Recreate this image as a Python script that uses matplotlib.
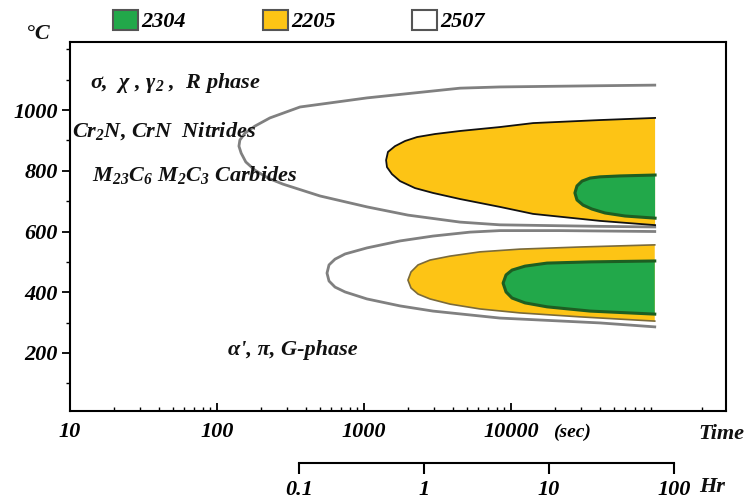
import matplotlib
matplotlib.use("Agg")
import matplotlib.pyplot as plt
from matplotlib.patches import Patch
from matplotlib.ticker import FixedLocator, FixedFormatter, LogLocator, NullFormatter, MultipleLocator

plt.rcParams['mathtext.fontset'] = 'custom'
plt.rcParams['mathtext.rm'] = 'Liberation Serif:bold:italic'
plt.rcParams['mathtext.it'] = 'Liberation Serif:bold:italic'
plt.rcParams['mathtext.bf'] = 'Liberation Serif:bold:italic'
plt.rcParams['font.family'] = ['Liberation Serif', 'DejaVu Serif']

# ---------------- data (time in s, temperature in degC) ----------------
# upper nose (sigma, chi, nitrides, carbides)
g2507_up_t = [95000, 40000, 8400, 4500, 1050, 367, 229, 181, 155, 143, 141, 146, 157, 181, 222,
              281, 502, 1050, 1990, 4500, 8400, 40000, 95000]
g2507_up_T = [1082, 1080, 1076, 1072, 1040, 1010, 974, 947, 924, 901, 881, 858, 829, 802, 776,
              756, 717, 681, 654, 631, 622, 617, 615]

g2205_up_t = [95500, 40300, 14130, 8410, 4497, 3040, 2295, 1901, 1624, 1455, 1413,
              1433, 1549, 1758, 2223, 2946, 4497, 8410, 14130, 40300, 95500]
g2205_up_T = [974, 967, 957, 944, 931, 921, 911, 898, 881, 862, 835,
              812, 789, 766, 743, 727, 707, 681, 658, 635, 621]

g2304_up_t = [95500, 55100, 40300, 34500, 30400, 28100, 27200, 28100, 30900, 35500, 43600, 59700, 95500]
g2304_up_T = [786, 783, 780, 776, 766, 750, 727, 704, 687, 674, 661, 651, 644]

# lower nose (alpha prime, pi, G-phase)
g2507_lo_t = [95000, 21500, 8410, 5260, 2946, 1758, 1047, 743, 635, 578, 560,
              578, 635, 743, 1047, 1758, 2946, 8410, 40300, 95000]
g2507_lo_T = [600, 603, 603, 598, 585, 569, 546, 526, 509, 490, 463,
              437, 417, 401, 378, 355, 338, 315, 299, 286]

g2205_lo_t = [95000, 29400, 11500, 6150, 3845, 2810, 2330, 2088, 1990,
              2088, 2330, 2810, 3845, 6150, 11500, 29400, 95000]
g2205_lo_T = [556, 549, 542, 533, 519, 506, 490, 467, 440,
              414, 394, 378, 361, 345, 332, 319, 305]

g2304_lo_t = [95000, 34500, 17580, 12450, 10160, 9250, 8830, 9250, 10160, 12450, 17580, 34500, 95000]
g2304_lo_T = [503, 500, 496, 486, 473, 457, 430, 401, 381, 365, 352, 338, 328]

grades = ['2304', '2205', '2507']
grade_colors = ['#22A84A', '#FDC415', '#FFFFFF']

sec_ticks = [10, 100, 1000, 10000]
sec_labels = ['10', '100', '1000', '10000']
temp_ticks = [200, 400, 600, 800, 1000]
hr_ticks = [0.1, 1, 10, 100]
hr_labels = ['0.1', '1', '10', '100']

# ---------------- figure ----------------
W, H = 745, 501
fig = plt.figure(figsize=(W / 100, H / 100), dpi=100)
ax = fig.add_axes([70 / W, (H - 411) / H, 656 / W, 369 / H])
ax.set_xscale('log')
ax.set_xlim(10, 2.9e5)
ax.set_ylim(9, 1224)

gray = '#808080'
# 2507 outlines
ax.plot(g2507_up_t, g2507_up_T, color=gray, lw=2.0, zorder=2, solid_joinstyle='round')
ax.plot(g2507_lo_t, g2507_lo_T, color=gray, lw=2.0, zorder=2, solid_joinstyle='round')
# 2205 regions
ax.fill(g2205_up_t, g2205_up_T, color=grade_colors[1], lw=0, zorder=3)
ax.plot(g2205_up_t, g2205_up_T, color='#111111', lw=1.3, zorder=4, solid_joinstyle='round')
ax.fill(g2205_lo_t, g2205_lo_T, color=grade_colors[1], lw=0, zorder=3)
ax.plot(g2205_lo_t, g2205_lo_T, color='#7a6a3a', lw=1.2, zorder=4, solid_joinstyle='round')
# 2304 regions
ax.fill(g2304_up_t, g2304_up_T, color=grade_colors[0], lw=0, zorder=5)
ax.plot(g2304_up_t, g2304_up_T, color='#1D5E22', lw=2.2, zorder=6, solid_joinstyle='round')
ax.fill(g2304_lo_t, g2304_lo_T, color=grade_colors[0], lw=0, zorder=5)
ax.plot(g2304_lo_t, g2304_lo_T, color='#1D5E22', lw=2.2, zorder=6, solid_joinstyle='round')

# axes styling
for s in ax.spines.values():
    s.set_linewidth(1.5)
ax.xaxis.set_major_locator(FixedLocator(sec_ticks))
ax.xaxis.set_major_formatter(FixedFormatter(sec_labels))
ax.xaxis.set_minor_locator(LogLocator(base=10, subs=range(2, 10), numticks=20))
ax.xaxis.set_minor_formatter(NullFormatter())
ax.yaxis.set_major_locator(FixedLocator(temp_ticks))
ax.yaxis.set_minor_locator(MultipleLocator(100))
ax.tick_params(axis='x', which='major', direction='in', length=6, width=1.3, pad=8)
ax.tick_params(axis='x', which='minor', direction='in', length=3, width=1.0)
ax.tick_params(axis='y', which='major', direction='out', length=6, width=1.3, pad=3)
ax.tick_params(axis='y', which='minor', direction='out', length=3, width=1.0)
for lab in ax.get_xticklabels() + ax.get_yticklabels():
    lab.set_fontsize(16)
    lab.set_fontweight('bold')
    lab.set_fontstyle('italic')

tfont = dict(fontsize=16, fontweight='bold', fontstyle='italic', color='#111111')
ax.text(0.030, 0.889, 'σ,  χ , γ$_2$ ,  R phase', transform=ax.transAxes, va='center', ha='left', **tfont)
ax.text(0.003, 0.759, 'Cr$_2$N, CrN  Nitrides', transform=ax.transAxes, va='center', ha='left', **tfont)
ax.text(0.034, 0.640, 'M$_{23}$C$_6$ M$_2$C$_3$ Carbides', transform=ax.transAxes, va='center', ha='left', **tfont)
ax.text(0.241, 0.165, "α', π, G-phase", transform=ax.transAxes, va='center', ha='left', **tfont)

fig.text(38 / W, 1 - 34 / H, '°C', ha='center', va='center', **tfont)
fig.text(572 / W, 1 - 432 / H, '(sec)', ha='center', va='center', fontsize=14, fontweight='bold', fontstyle='italic')
fig.text(721 / W, 1 - 434 / H, 'Time', ha='center', va='center', **tfont)

# legend
handles = [Patch(facecolor=c, edgecolor='#555555', linewidth=1.5) for c in grade_colors]
leg = fig.legend(handles, grades, loc='center left', bbox_to_anchor=(113 / W, 1 - 21 / H),
                 ncol=3, frameon=False, borderpad=0, borderaxespad=0,
                 handlelength=1.13, handleheight=1.03, handletextpad=0.15, columnspacing=3.45,
                 prop=dict(family='Liberation Serif', size=16, weight='bold', style='italic'))

# hour scale
ax2 = fig.add_axes([299 / W, (H - 463) / H, 375 / W, 0.0001])
ax2.set_xscale('log')
ax2.set_xlim(0.1, 100)
for k in ['top', 'left', 'right']:
    ax2.spines[k].set_visible(False)
ax2.spines['bottom'].set_linewidth(1.5)
ax2.set_yticks([])
ax2.xaxis.set_major_locator(FixedLocator(hr_ticks))
ax2.xaxis.set_major_formatter(FixedFormatter(hr_labels))
ax2.xaxis.set_minor_locator(FixedLocator([]))
ax2.tick_params(axis='x', which='major', direction='out', length=8, width=1.5, pad=4)
for lab in ax2.get_xticklabels():
    lab.set_fontsize(16)
    lab.set_fontweight('bold')
    lab.set_fontstyle('italic')
fig.text(712 / W, 1 - 487 / H, 'Hr', ha='center', va='center', **tfont)

fig.savefig('out.png', dpi=100)
